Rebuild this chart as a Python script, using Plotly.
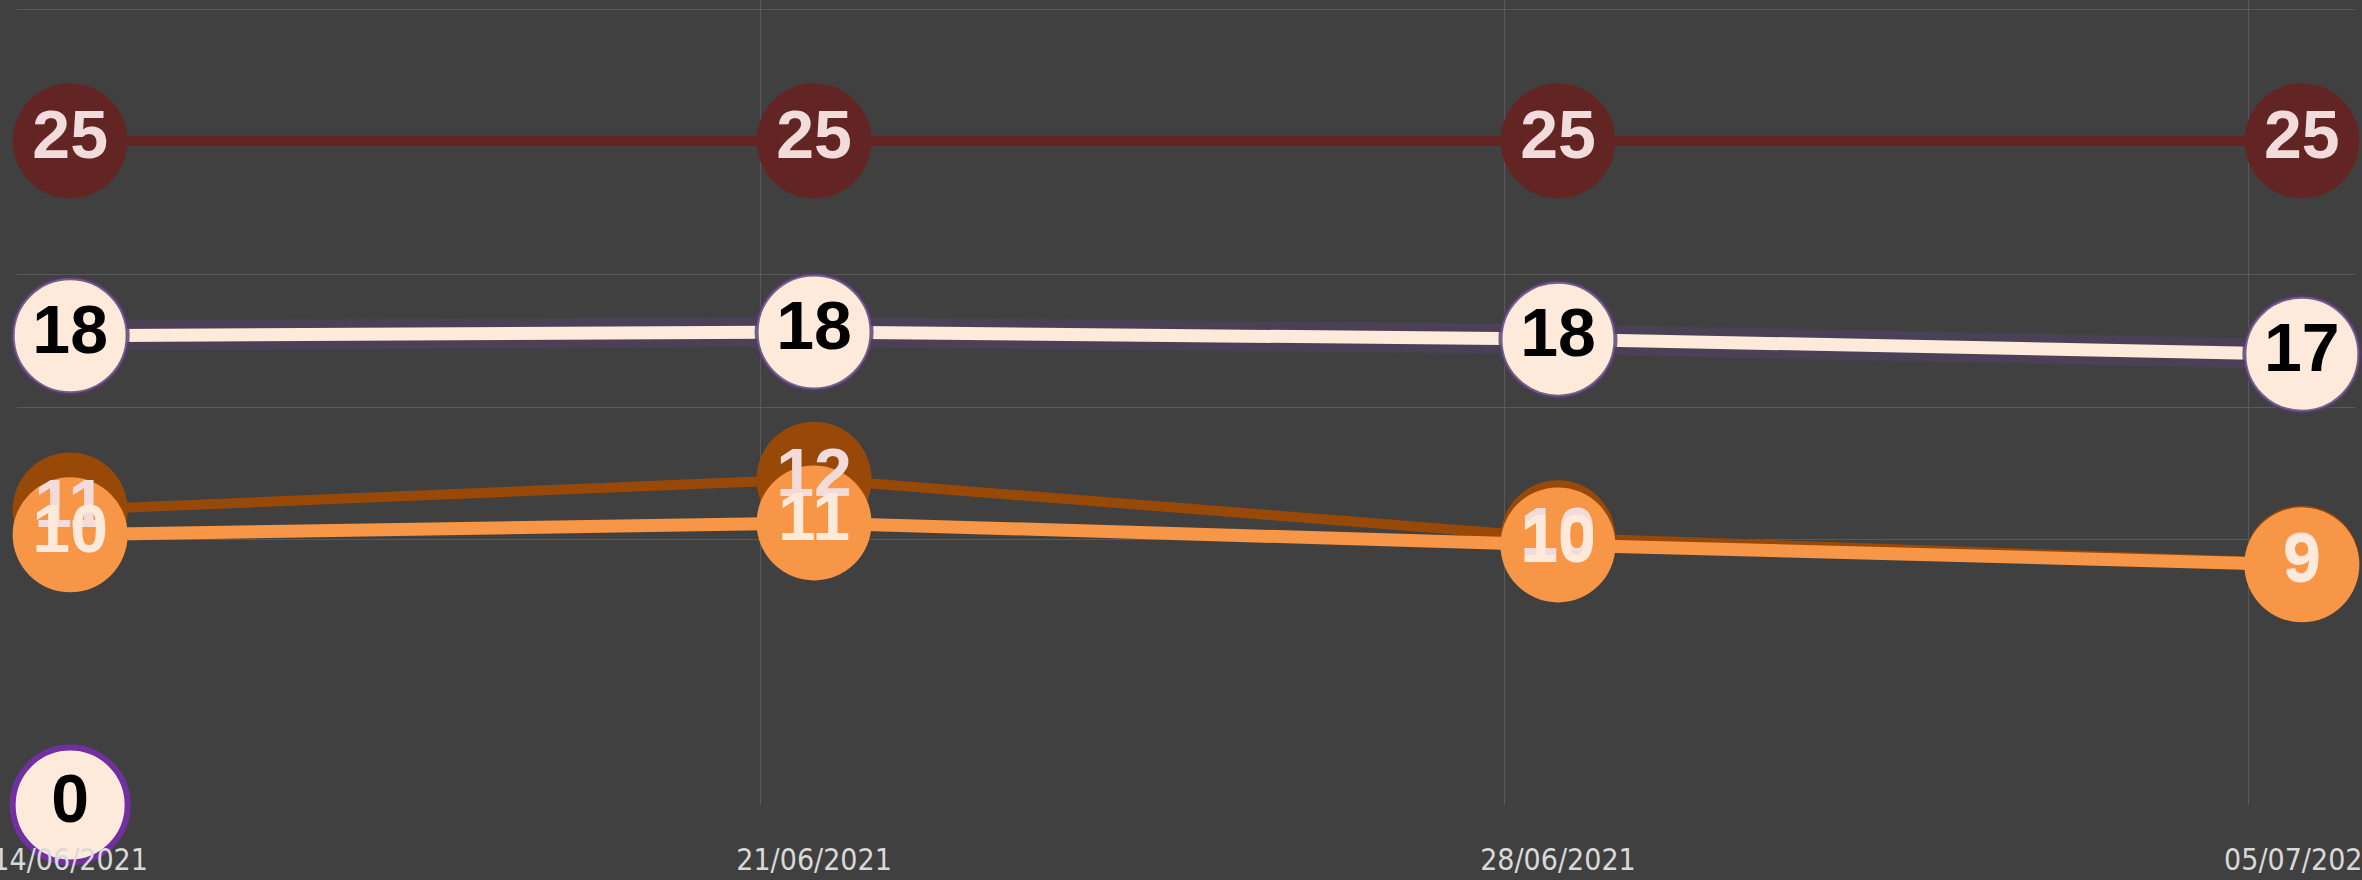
import pandas as pd
import plotly.graph_objects as go

dates = ["2021-06-14", "2021-06-21", "2021-06-28", "2021-07-05"]
red_vals = [25.05, 25.05, 25.05, 25.05]
cream_vals = [17.7, 17.84, 17.57, 17.0]
brown_vals = [11.13, 12.29, 10.08, 9.12]
orange_vals = [10.19, 10.64, 9.81, 9.06]
zero_dates = ["2021-06-14"]
zero_vals = [0]
y_grid_vals = [10, 15, 20, 25, 30]

BG = "#404040"
GRID = "#595959"
RED = "#632523"
BROWN = "#984807"
ORANGE = "#F79646"
CREAM = "#FDEADA"
PINK = "#F2DCDB"
PURPLE = "#7030A0"

x = pd.to_datetime(dates)
half_day = pd.Timedelta(hours=12)
grid_x = list(x - half_day)

MSIZE = 115
label_font = dict(family="Liberation Sans, Arial, sans-serif", size=68)

fig = go.Figure()

def lm(vals, color, width, mline=None):
    fig.add_trace(go.Scatter(
        x=x, y=vals, mode="lines+markers",
        line=dict(color=color, width=width),
        marker=dict(size=MSIZE, color=color,
                    line=mline if mline else dict(width=0)),
        cliponaxis=False, hoverinfo="skip", showlegend=False))

# dark red series
lm(red_vals, RED, 10)
# cream series with purple glow
fig.add_trace(go.Scatter(
    x=x, y=cream_vals, mode="lines",
    line=dict(color="rgba(95,70,130,0.35)", width=30),
    cliponaxis=False, hoverinfo="skip", showlegend=False))
lm(cream_vals, CREAM, 13, dict(color="rgba(80,60,110,0.8)", width=4))
# brown then orange
lm(brown_vals, BROWN, 10)
lm(orange_vals, ORANGE, 13)
# zero point
fig.add_trace(go.Scatter(
    x=pd.to_datetime(zero_dates), y=zero_vals, mode="markers",
    marker=dict(size=MSIZE, color=CREAM, line=dict(color=PURPLE, width=6)),
    cliponaxis=False, hoverinfo="skip", showlegend=False))

# labels on top
def tx(xs, vals, color):
    fig.add_trace(go.Scatter(
        x=xs, y=vals, mode="text",
        text=[f"{v:.0f}" for v in vals], textposition="middle center",
        textfont=dict(label_font, color=color, weight="bold"),
        cliponaxis=False, hoverinfo="skip", showlegend=False))

tx(x, red_vals, PINK)
tx(x, cream_vals, "#000000")
tx(x, brown_vals, PINK)
tx(x, orange_vals, CREAM)
tx(pd.to_datetime(zero_dates), zero_vals, "#000000")

fig.update_layout(
    width=2362, height=880,
    paper_bgcolor=BG, plot_bgcolor=BG,
    margin=dict(l=17, r=7, t=0, b=75),
    showlegend=False,
    xaxis=dict(
        range=[x[0] - half_day, x[-1] + half_day],
        tickvals=list(x), tickformat="%d/%m/%Y",
        showgrid=False, zeroline=False, showline=False,
        ticks="", ticklabelstandoff=34, automargin=False,
        ticklabeloverflow="allow",
        tickfont=dict(family="DejaVu Sans Condensed, sans-serif",
                      size=30, color="#D9D9D9"),
        minor=dict(tickvals=grid_x, showgrid=True, gridcolor=GRID, gridwidth=1, ticks=""),
    ),
    yaxis=dict(
        range=[0, 30.36], tickvals=y_grid_vals, showticklabels=False,
        showgrid=True, gridcolor=GRID, gridwidth=1,
        zeroline=False, showline=False, automargin=False,
    ),
)

fig.write_html(
    "out.html",
    config={"displayModeBar": False},
    post_script="document.body.style.margin='0';document.body.style.background='#404040';document.documentElement.style.background='#404040';",
)
